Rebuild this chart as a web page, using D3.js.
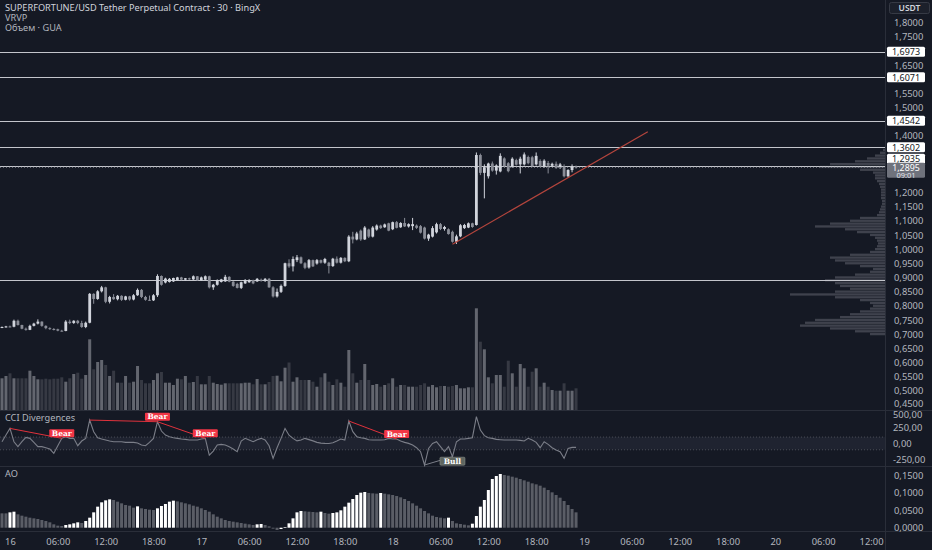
<!DOCTYPE html>
<html>
<head>
<meta charset="utf-8">
<script src="https://cdn.jsdelivr.net/npm/d3@7"></script>
<style>
  html, body { margin: 0; padding: 0; background: #151924; }
  svg { display: block; font-family: "Noto Sans", Roboto, sans-serif; }
</style>
</head>
<body>
<div id="chart"></div>
<script>
// 30m candles, first one at 15th 23:00
const candleStart = Date.UTC(2025, 6, 15, 23, 0);
const ohlc = [
  [.725,.728,.722,.726],[.726,.730,.724,.728],[.728,.731,.725,.727],[.727,.752,.725,.748],[.748,.752,.731,.733],
  [.733,.734,.718,.720],[.720,.724,.713,.716],[.716,.734,.715,.730],[.730,.741,.728,.738],[.738,.753,.735,.745],
  [.745,.746,.727,.730],[.730,.732,.718,.722],[.722,.725,.716,.719],[.719,.722,.714,.718],[.718,.720,.711,.713],
  [.713,.716,.710,.712],[.712,.750,.711,.745],[.745,.752,.736,.740],[.740,.750,.737,.748],[.748,.751,.736,.740],
  [.740,.748,.723,.726],[.726,.745,.722,.741],[.741,.846,.739,.843],[.843,.845,.808,.825],[.825,.856,.822,.852],
  [.852,.871,.848,.866],[.866,.868,.810,.815],[.815,.836,.809,.832],[.832,.842,.822,.824],[.824,.839,.820,.836],
  [.836,.838,.818,.822],[.822,.836,.820,.834],[.834,.836,.819,.823],[.823,.842,.820,.838],[.838,.862,.836,.857],
  [.857,.860,.828,.832],[.832,.836,.819,.822],[.822,.837,.818,.820],[.820,.842,.818,.838],[.838,.912,.832,.906],
  [.906,.908,.872,.875],[.883,.900,.880,.897],[.885,.899,.883,.896],[.887,.900,.885,.899],[.892,.903,.890,.901],
  [.901,.903,.891,.893],[.893,.899,.890,.898],[.898,.900,.892,.894],[.894,.908,.892,.905],[.905,.906,.889,.891],
  [.891,.904,.889,.901],[.893,.908,.891,.905],[.905,.907,.862,.866],[.866,.878,.857,.875],[.875,.894,.872,.892],
  [.885,.896,.883,.894],[.887,.910,.885,.903],[.903,.905,.884,.886],[.886,.888,.868,.871],[.878,.882,.862,.864],
  [.864,.886,.860,.884],[.880,.895,.878,.892],[.884,.895,.882,.891],[.891,.893,.877,.880],[.887,.899,.885,.896],
  [.893,.897,.886,.890],[.890,.899,.885,.896],[.896,.899,.864,.866],[.866,.870,.830,.834],[.834,.862,.830,.850],
  [.850,.876,.846,.871],[.871,.953,.868,.951],[.951,.965,.935,.940],[.940,.975,.922,.966],[.962,.980,.955,.972],
  [.972,.975,.948,.951],[.951,.955,.930,.935],[.936,.966,.932,.962],[.962,.964,.938,.940],[.950,.966,.946,.962],
  [.962,.964,.950,.953],[.953,.970,.949,.966],[.953,.956,.915,.941],[.941,.970,.938,.967],[.967,.975,.950,.953],
  [.953,.973,.950,.970],[.970,.972,.955,.958],[.958,1.050,.955,1.045],[1.045,1.062,1.021,1.035],[1.035,1.062,1.032,1.056],
  [1.066,1.070,1.030,1.035],[1.035,1.082,1.033,1.077],[1.070,1.073,1.040,1.045],[1.045,1.082,1.042,1.077],[1.070,1.088,1.066,1.084],
  [1.084,1.087,1.072,1.075],[1.078,1.091,1.076,1.088],[1.092,1.094,1.064,1.066],[1.071,1.098,1.068,1.096],[1.096,1.100,1.074,1.076],
  [1.078,1.096,1.076,1.093],[1.093,1.111,1.079,1.081],[1.081,1.092,1.077,1.089],[1.082,1.111,1.068,1.089],[1.084,1.088,1.072,1.076],
  [1.082,1.086,1.056,1.059],[1.077,1.080,1.035,1.038],[1.038,1.055,1.030,1.052],[1.045,1.082,1.042,1.075],[1.060,1.094,1.056,1.089],
  [1.089,1.093,1.068,1.072],[1.072,1.083,1.066,1.079],[1.071,1.074,1.052,1.054],[1.062,1.066,1.024,1.027],[1.027,1.052,1.019,1.046],
  [1.046,1.089,1.043,1.085],[1.075,1.090,1.072,1.086],[1.077,1.095,1.075,1.092],[1.092,1.094,1.076,1.079],[1.086,1.342,1.084,1.333],
  [1.333,1.338,1.262,1.270],[1.270,1.300,1.180,1.290],[1.258,1.306,1.250,1.303],[1.303,1.310,1.274,1.278],[1.278,1.300,1.264,1.296],
  [1.275,1.339,1.272,1.330],[1.321,1.325,1.290,1.294],[1.304,1.308,1.272,1.276],[1.292,1.325,1.288,1.320],[1.315,1.320,1.296,1.299],
  [1.300,1.327,1.268,1.320],[1.300,1.342,1.296,1.335],[1.326,1.331,1.300,1.304],[1.325,1.330,1.290,1.294],[1.300,1.342,1.296,1.330],
  [1.312,1.318,1.290,1.293],[1.293,1.318,1.288,1.313],[1.305,1.312,1.268,1.295],[1.295,1.306,1.290,1.302],[1.302,1.310,1.284,1.287],
  [1.292,1.305,1.284,1.300],[1.292,1.300,1.254,1.258],[1.258,1.283,1.254,1.280],[1.280,1.300,1.272,1.292],[1.292,1.296,1.285,1.2895]
];
const volume = [
  317,340,367,317,317,317,317,393,340,307,307,313,307,313,313,327,283,317,360,373,
  313,350,707,407,480,500,450,340,393,273,273,340,273,283,440,300,267,267,300,367,
  380,273,273,250,313,307,340,273,280,340,257,257,340,273,260,253,267,267,267,267,
  267,273,273,257,310,257,257,280,340,343,287,423,475,283,327,300,300,300,283,233,
  327,367,283,250,307,273,233,600,367,273,300,460,300,250,260,233,250,267,317,233,
  250,250,233,233,233,250,267,233,250,227,240,240,233,240,250,217,217,227,227,1017,
  683,607,327,267,350,350,233,493,367,233,460,417,233,383,417,233,273,233,200,193,
  193,267,193,193,217
];
const cci = [
  27,132,237,27,-51,27,95,80,17,-51,-51,-67,-88,-156,-36,80,106,80,80,-36,
  38,80,368,185,90,69,54,38,27,27,27,17,17,17,6,-25,-36,17,80,342,
  195,132,106,90,80,69,64,54,54,54,69,80,-183,-120,-25,-15,-25,-51,-88,-130,
  38,80,54,27,59,80,54,-36,-235,-67,80,237,130,80,40,55,80,60,40,17,
  5,1,0,10,38,70,54,353,185,106,90,80,59,54,54,54,59,80,69,69,
  38,17,1,-25,-67,-130,-340,-78,1,27,-51,-130,-51,-209,27,69,69,80,90,421,
  211,122,90,80,64,59,54,54,54,54,48,38,80,54,17,-67,27,-15,-67,-104,
  -130,-235,-78,-62,-62
];
const ao = [
  .0414,.0414,.0443,.0462,.0386,.0347,.0318,.0289,.0270,.0251,.0222,.0193,.0155,.0097,.0059,.0049,.0078,.0097,.0126,.0155,
  .0136,.0193,.0289,.0443,.0607,.0732,.0789,.0818,.0799,.0751,.0703,.0655,.0635,.0578,.0616,.0559,.0540,.0520,.0511,.0559,
  .0626,.0684,.0751,.0780,.0760,.0732,.0703,.0674,.0635,.0607,.0559,.0511,.0462,.0386,.0318,.0270,.0222,.0193,.0174,.0155,
  .0136,.0116,.0097,.0078,.0097,.0107,.0078,.0039,-.0028,-.0066,-.0038,.0020,.0126,.0270,.0443,.0482,.0472,.0462,.0453,.0443,
  .0462,.0424,.0405,.0424,.0443,.0501,.0607,.0722,.0828,.0943,.1010,.1030,.1001,.0991,.0982,.1001,.0982,.0962,.0943,.0914,
  .0876,.0828,.0770,.0703,.0635,.0559,.0482,.0414,.0347,.0309,.0289,.0270,.0289,.0193,.0126,.0107,.0087,.0068,.0116,.0337,
  .0607,.0799,.1087,.1405,.1491,.1549,.1520,.1501,.1472,.1443,.1405,.1366,.1328,.1280,.1251,.1212,.1155,.1087,.1020,.0943,
  .0866,.0770,.0655,.0540,.0443
];
// [from candle, to candle, type]
const divergences = [[2,15,"Bear"],[22,39,"Bear"],[39,51,"Bear"],[87,99,"Bear"],[106,113,"Bull"]];
const levels = [1.6973, 1.6071, 1.4542, 1.3602, 1.2935];
const supportLevel = 0.8915;
const lastPrice = 1.2895;
const trend = [[Date.UTC(2025, 6, 18, 7, 30), 1.018], [Date.UTC(2025, 6, 19, 8, 0), 1.415]];
// visible range volume profile: [price, volume]
const profile = [
  [1.35,2],[1.34,5],[1.33,10],[1.32,18],[1.31,30],[1.30,55],[1.29,65],[1.28,25],[1.27,12],[1.26,10],
  [1.25,10],[1.24,8],[1.23,6],[1.22,5],[1.21,4],[1.20,4],[1.19,4],[1.18,4],[1.17,3],[1.16,3],
  [1.15,4],[1.14,5],[1.13,6],[1.12,8],[1.11,25],[1.10,35],[1.09,55],[1.08,70],[1.07,40],[1.06,28],
  [1.05,15],[1.04,10],[1.03,8],[1.02,7],[1.01,8],[1.00,10],[0.99,15],[0.98,35],[0.97,55],[0.96,50],
  [0.95,40],[0.94,25],[0.93,12],[0.92,15],[0.91,30],[0.90,50],[0.89,60],[0.88,50],[0.87,45],[0.86,35],
  [0.85,50],[0.84,95],[0.83,50],[0.82,25],[0.81,15],[0.80,12],[0.79,15],[0.78,25],[0.77,35],[0.76,45],
  [0.75,70],[0.74,80],[0.73,85],[0.72,55],[0.71,30],[0.70,15]
];
const priceTicks = d3.range(0.45, 1.8001, 0.05);
const cciTicks = [500, 250, 0, -250];
const aoTicks = [0.15, 0.10, 0.05, 0];

const width = 932, height = 550;
const plotRight = 885;
const bg = "#151924", grid = "#2a2e39", txt = "#b2b5be";
const axisFont = 9.4;

const svg = d3.select('#chart').append('svg')
  .attr('width', width).attr('height', height);
svg.append('rect').attr('width', width).attr('height', height).attr('fill', bg);

const t0 = Date.UTC(2025, 6, 15, 22, 45);
const x = d3.scaleUtc().domain([t0, t0 + 111 * 3600e3]).range([0, plotRight]);
const yPrice = d3.scaleLinear().domain([0.45, 1.8]).range([405.2, 22.7]);
const yVol = d3.scaleLinear().domain([0, 1000]).range([410, 310]);
const yCci = d3.scaleLinear().domain([-250, 500]).range([459.3, 411.7]);
const yAo = d3.scaleLinear().domain([0, 0.15]).range([527.7, 475.7]);

const candles = ohlc.map((d, i) => ({
  t: candleStart + i * 1800e3, o: d[0], h: d[1], l: d[2], c: d[3],
  v: volume[i], cci: cci[i], ao: ao[i], up: d[3] >= d[0]
}));

const comma = f => v => d3.format(f)(v).replace('.', ',').replace('−', '-');

// pane separators + price axis border
svg.append('g').selectAll('line').data([410.5, 466.5, 531.5]).join('line')
  .attr('x1', 0).attr('x2', width).attr('y1', d => d).attr('y2', d => d)
  .attr('stroke', grid);
svg.append('line').attr('x1', plotRight + 0.5).attr('x2', plotRight + 0.5)
  .attr('y1', 0).attr('y2', height).attr('stroke', grid);

// volume profile
svg.append('g').selectAll('rect').data(profile).join('rect')
  .attr('x', d => plotRight - d[1])
  .attr('y', d => yPrice(d[0]) - 1.4)
  .attr('width', d => d[1])
  .attr('height', 2.3)
  .attr('fill', '#4d505b').attr('opacity', 0.75);

// volume
const bw = 3;
svg.append('g').selectAll('rect').data(candles).join('rect')
  .attr('x', d => x(d.t) - bw / 2)
  .attr('y', d => yVol(d.v))
  .attr('width', bw)
  .attr('height', d => yVol(0) - yVol(d.v))
  .attr('fill', d => d.up ? '#63666f' : '#363943');

// horizontal levels
svg.append('g').selectAll('line').data(levels.concat([supportLevel])).join('line')
  .attr('x1', 0).attr('x2', plotRight)
  .attr('y1', d => Math.round(yPrice(d)) + 0.5).attr('y2', d => Math.round(yPrice(d)) + 0.5)
  .attr('stroke', '#c3c5cb').attr('stroke-width', 1);
svg.append('line')
  .attr('x1', 0).attr('x2', plotRight)
  .attr('y1', yPrice(lastPrice)).attr('y2', yPrice(lastPrice))
  .attr('stroke', '#787b86').attr('stroke-dasharray', '1,2');

// candles
const cg = svg.append('g');
cg.selectAll('line').data(candles).join('line')
  .attr('x1', d => x(d.t)).attr('x2', d => x(d.t))
  .attr('y1', d => yPrice(d.h)).attr('y2', d => yPrice(d.l))
  .attr('stroke', d => d.up ? '#d1d4dc' : '#8a8d97');
cg.selectAll('rect').data(candles).join('rect')
  .attr('x', d => x(d.t) - 1.4)
  .attr('y', d => yPrice(Math.max(d.o, d.c)))
  .attr('width', 2.8)
  .attr('height', d => Math.max(1, Math.abs(yPrice(d.o) - yPrice(d.c))))
  .attr('fill', d => d.up ? '#d1d4dc' : '#8a8d97');

// trend line
svg.append('line')
  .attr('x1', x(trend[0][0])).attr('y1', yPrice(trend[0][1]))
  .attr('x2', x(trend[1][0])).attr('y2', yPrice(trend[1][1]))
  .attr('stroke', '#b4453d').attr('stroke-width', 1.2);

// price axis labels (positions of the boxes, in px)
const boxY = levels.map(p => yPrice(p) + (p === 1.2935 ? -7.5 : 0));
const lastY = yPrice(lastPrice);
const covered = y => boxY.some(b => Math.abs(b - y) < 8.5) || (y > lastY - 9 && y < lastY + 13);

svg.append('g').selectAll('text').data(priceTicks.filter(p => !covered(yPrice(p)))).join('text')
  .attr('x', 894).attr('y', d => yPrice(d) + 3.3 - (d < 0.46 ? 1.5 : 0))
  .attr('fill', txt).attr('font-size', axisFont)
  .text(comma('.4f'));

const labelBox = (y, label, fill, color) => {
  const g = svg.append('g');
  g.append('rect').attr('x', 887).attr('y', y - 5).attr('width', 38).attr('height', 10)
    .attr('rx', 1.5).attr('fill', fill);
  g.append('text').attr('x', 906).attr('y', y + 3.2).attr('text-anchor', 'middle')
    .attr('fill', color).attr('font-size', 9).text(label);
};
levels.forEach((p, i) => labelBox(boxY[i], comma('.4f')(p), '#ffffff', '#131722'));

// last price + countdown
svg.append('rect').attr('x', 887).attr('y', lastY - 4.5).attr('width', 38).attr('height', 15)
  .attr('rx', 1.5).attr('fill', '#6f727c');
svg.append('text').attr('x', 906).attr('y', lastY + 3.5).attr('text-anchor', 'middle')
  .attr('fill', '#ffffff').attr('font-size', 8.8).text(comma('.4f')(lastPrice));
svg.append('text').attr('x', 906).attr('y', lastY + 10.2).attr('text-anchor', 'middle')
  .attr('fill', '#e0e3eb').attr('font-size', 7.5).text('09:01');

// USDT button
svg.append('rect').attr('x', 889.5).attr('y', 2.5).attr('width', 40).attr('height', 11)
  .attr('rx', 2).attr('fill', '#1c202b').attr('stroke', '#363a45');
svg.append('text').attr('x', 909.5).attr('y', 11).attr('text-anchor', 'middle')
  .attr('fill', '#d1d4dc').attr('font-size', 8.5).attr('font-weight', 600).text('USDT');

// CCI pane
svg.append('rect').attr('x', 0).attr('y', yCci(100)).attr('width', plotRight)
  .attr('height', yCci(-100) - yCci(100)).attr('fill', '#1f2330');
svg.append('g').selectAll('line').data([100, -100]).join('line')
  .attr('x1', 0).attr('x2', plotRight)
  .attr('y1', d => yCci(d)).attr('y2', d => yCci(d))
  .attr('stroke', '#4a4d57').attr('stroke-dasharray', '1,2');
svg.append('path').datum(candles)
  .attr('d', d3.line().x(d => x(d.t)).y(d => yCci(d.cci)))
  .attr('fill', 'none').attr('stroke', '#7b7e88').attr('stroke-width', 1.1);

divergences.forEach(([a, b, type]) => {
  const A = candles[a], B = candles[b];
  const bear = type === 'Bear';
  svg.append('line')
    .attr('x1', x(A.t)).attr('y1', yCci(A.cci))
    .attr('x2', x(B.t)).attr('y2', yCci(B.cci))
    .attr('stroke', bear ? '#e0323c' : '#7b7e88').attr('stroke-width', 1);
  const cy = yCci(B.cci) + (bear ? -5 : 4.5);
  svg.append('rect').attr('x', x(B.t) - 12.5).attr('y', cy - 4).attr('width', 25).attr('height', 8)
    .attr('rx', 1).attr('fill', bear ? '#f23645' : '#5f6660')
    .attr('stroke', bear ? 'none' : '#8a8f8a').attr('stroke-width', 0.6);
  svg.append('text').attr('x', x(B.t)).attr('y', cy + 2.6).attr('text-anchor', 'middle')
    .attr('fill', '#ffffff').attr('font-size', 7.5).attr('font-weight', 700)
    .attr('font-family', 'DejaVu Serif, serif').text(type);
});

svg.append('g').selectAll('text').data(cciTicks).join('text')
  .attr('x', 893).attr('y', d => yCci(d) + 3.3 + (d === 500 ? 2.5 : 0))
  .attr('fill', txt).attr('font-size', axisFont)
  .text(comma('.2f'));

// AO pane
svg.append('g').selectAll('rect').data(candles).join('rect')
  .attr('x', d => x(d.t) - bw / 2)
  .attr('y', d => Math.min(yAo(d.ao), yAo(0)))
  .attr('width', bw)
  .attr('height', d => Math.abs(yAo(d.ao) - yAo(0)))
  .attr('fill', (d, i) => i > 0 && d.ao > candles[i - 1].ao ? '#ffffff' : '#5a5d66');
svg.append('g').selectAll('text').data(aoTicks).join('text')
  .attr('x', 894).attr('y', d => yAo(d) + 3.3)
  .attr('fill', txt).attr('font-size', axisFont)
  .text(comma('.4f'));

// time axis
const fmtTime = d => d.getUTCHours() === 0 ? d3.utcFormat('%-d')(d) : d3.utcFormat('%H:%M')(d);
const xAxis = d3.axisBottom(x)
  .ticks(d3.utcHour.every(6))
  .tickFormat(fmtTime)
  .tickSize(0);
svg.append('g')
  .attr('transform', 'translate(0, 535)')
  .call(xAxis)
  .call(g => g.select('.domain').remove())
  .call(g => g.selectAll('text').attr('fill', txt).attr('font-size', axisFont)
    .attr('font-family', '"Noto Sans", Roboto, sans-serif'));

// legends
const legend = [
  ['SUPERFORTUNE/USD Tether Perpetual Contract · 30 · BingX', 11, '#d1d4dc'],
  ['VRVP', 21, '#b2b5be'],
  ['Объем · GUA', 31, '#b2b5be'],
  ['CCI Divergences', 421, '#b2b5be'],
  ['AO', 477, '#b2b5be']
];
svg.append('g').selectAll('text').data(legend).join('text')
  .attr('x', 5).attr('y', d => d[1]).attr('fill', d => d[2])
  .attr('font-size', 9.2).text(d => d[0]);
</script>
</body>
</html>
